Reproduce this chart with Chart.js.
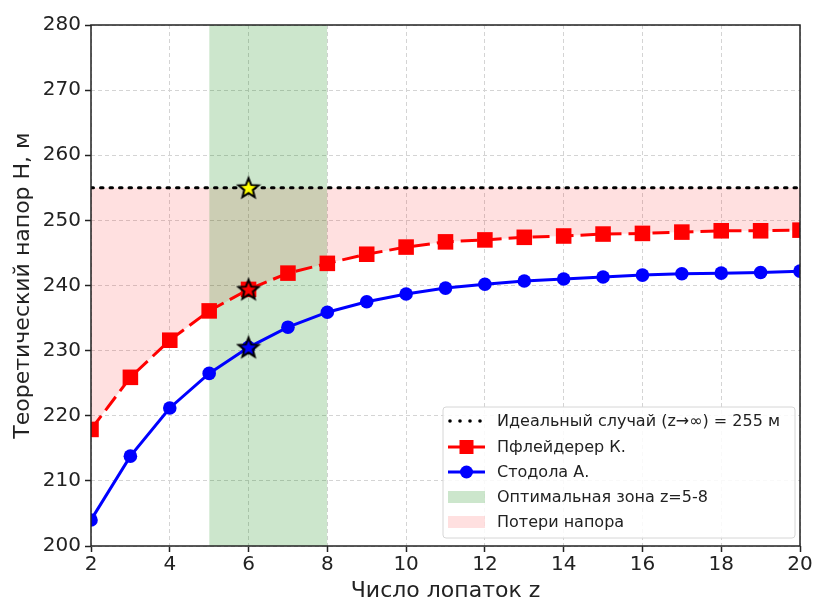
<!DOCTYPE html>
<html>
<head>
<meta charset="utf-8">
<script src="https://cdn.jsdelivr.net/npm/chart.js@4.4.1/dist/chart.umd.min.js"></script>
<style>
  html, body { margin: 0; padding: 0; background: #fff; }
  #wrap { width: 814px; height: 602px; }
</style>
</head>
<body>
<div id="wrap"><canvas id="myChart" width="814" height="602"></canvas></div>
<script>
// data
var blades = [2, 3, 4, 5, 6, 7, 8, 9, 10, 11, 12, 13, 14, 15, 16, 17, 18, 19, 20];
var pfleiderer = [217.9, 225.9, 231.6, 236.1, 239.4, 241.9, 243.4, 244.8, 245.9, 246.7, 247.0, 247.4, 247.6, 247.9, 248.0, 248.2, 248.4, 248.4, 248.5];
var stodola = [204.0, 213.8, 221.2, 226.5, 230.5, 233.6, 235.9, 237.5, 238.7, 239.6, 240.2, 240.7, 241.0, 241.3, 241.6, 241.8, 241.9, 242.0, 242.2];
var idealHead = 255;
var optimalZone = [5, 8];
var chosenZ = 6;
var legendLabels = ["Идеальный случай (z→∞) = 255 м", "Пфлейдерер К.", "Стодола А.", "Оптимальная зона z=5-8", "Потери напора"];
var xTitle = "Число лопаток z";
var yTitle = "Теоретический напор H, м";

var FONT = "'DejaVu Sans', sans-serif";

function xy(values){
    var out = [];
    for (var i = 0; i < blades.length; i++) {
        out.push({x: blades[i], y: values[i]});
    }
    return out;
}

var idealData = [];
for (var i = 0; i < blades.length; i++) {
    idealData.push({x: blades[i], y: idealHead});
}

var k = blades.indexOf(chosenZ);
var starPoints = [
    {x: chosenZ, y: idealHead},
    {x: chosenZ, y: pfleiderer[k]},
    {x: chosenZ, y: stodola[k]}
];

function makeStar(fill){
    var c = document.createElement('canvas');
    c.width = 26; c.height = 26;
    var g = c.getContext('2d');
    g.beginPath();
    for (var j = 0; j < 10; j++) {
        var r = (j % 2 == 0) ? 10.5 : 4.5;
        var a = -Math.PI / 2 + j * Math.PI / 5;
        var px = 13 + r * Math.cos(a);
        var py = 13.8 + r * Math.sin(a);
        if (j == 0) g.moveTo(px, py); else g.lineTo(px, py);
    }
    g.closePath();
    g.fillStyle = fill;
    g.fill();
    g.lineWidth = 2;
    g.strokeStyle = '#000';
    g.stroke();
    return c;
}
var stars = [makeStar('#ffff00'), makeStar('#ff0000'), makeStar('#0000ff')];

// frame + legend drawn after everything
var framePlugin = {
    id: 'framePlugin',
    afterDraw: function(chart){
        var ctx = chart.ctx;
        var a = chart.chartArea;
        ctx.save();
        ctx.strokeStyle = '#222';
        ctx.lineWidth = 1.5;
        ctx.strokeRect(a.left, a.top, a.right - a.left, a.bottom - a.top);

        // legend box
        var bx = 443, by = 407, bw = 352, bh = 131;
        ctx.fillStyle = 'rgba(255,255,255,0.85)';
        ctx.strokeStyle = '#d6d6d6';
        ctx.lineWidth = 1;
        ctx.beginPath();
        if (ctx.roundRect) ctx.roundRect(bx, by, bw, bh, 3); else ctx.rect(bx, by, bw, bh);
        ctx.fill();
        ctx.stroke();

        var x0 = 448, x1 = 485, tx = 497;
        var rows = [421, 447, 472, 497, 522];
        ctx.font = '16px ' + FONT;
        ctx.textBaseline = 'middle';
        ctx.fillStyle = '#222';
        for (var r = 0; r < legendLabels.length; r++) {
            ctx.fillText(legendLabels[r], tx, rows[r] + 1);
        }
        // ideal: dots
        ctx.fillStyle = '#000';
        for (var d = 0; d < 4; d++) {
            ctx.beginPath();
            ctx.arc(x0 + 2 + d * 10, rows[0], 1.8, 0, Math.PI * 2);
            ctx.fill();
        }
        // pfleiderer
        ctx.strokeStyle = '#ff0000';
        ctx.lineWidth = 3;
        ctx.beginPath(); ctx.moveTo(x0, rows[1]); ctx.lineTo(x1, rows[1]); ctx.stroke();
        ctx.fillStyle = '#ff0000';
        ctx.fillRect((x0 + x1) / 2 - 7, rows[1] - 7, 14, 14);
        // stodola
        ctx.strokeStyle = '#0000ff';
        ctx.beginPath(); ctx.moveTo(x0, rows[2]); ctx.lineTo(x1, rows[2]); ctx.stroke();
        ctx.fillStyle = '#0000ff';
        ctx.beginPath(); ctx.arc((x0 + x1) / 2, rows[2], 6.5, 0, Math.PI * 2); ctx.fill();
        // patches
        ctx.fillStyle = 'rgba(0,128,0,0.2)';
        ctx.fillRect(x0, rows[3] - 6, x1 - x0, 12);
        ctx.fillStyle = 'rgba(255,0,0,0.12)';
        ctx.fillRect(x0, rows[4] - 6, x1 - x0, 12);
        ctx.restore();
    }
};

var ctx = document.getElementById('myChart').getContext('2d');
var chart = new Chart(ctx, {
    type: 'line',
    data: {
        datasets: [
            {
                label: 'stars',
                data: starPoints,
                showLine: false,
                pointStyle: stars,
                pointRadius: 13,
                pointHoverRadius: 13,
                order: 0
            },
            {
                label: legendLabels[0],
                data: idealData,
                borderColor: '#000',
                borderWidth: 3,
                borderDash: [2.5, 7],
                borderCapStyle: 'round',
                pointRadius: 0,
                fill: false,
                order: 1
            },
            {
                label: legendLabels[2],
                data: xy(stodola),
                borderColor: '#0000ff',
                backgroundColor: '#0000ff',
                borderWidth: 3,
                pointStyle: 'circle',
                pointRadius: 6.8,
                pointBorderWidth: 0,
                fill: false,
                order: 2
            },
            {
                label: legendLabels[3],
                data: [{x: optimalZone[0], y: 280}, {x: optimalZone[1], y: 280}],
                borderWidth: 0,
                borderColor: 'rgba(0,0,0,0)',
                backgroundColor: 'rgba(0,128,0,0.2)',
                pointRadius: 0,
                fill: 'start',
                order: 4
            },
            {
                label: legendLabels[1],
                data: xy(pfleiderer),
                borderColor: '#ff0000',
                backgroundColor: '#ff0000',
                borderWidth: 3,
                borderDash: [17, 7],
                pointStyle: 'rect',
                pointRadius: 11,
                pointBorderWidth: 0,
                fill: {target: 1, above: 'rgba(255,0,0,0.12)', below: 'rgba(255,0,0,0.12)'},
                order: 5
            }
        ]
    },
    options: {
        responsive: false,
        animation: false,
        layout: { padding: { left: 0, right: 11, top: 25, bottom: 0 } },
        plugins: {
            legend: { display: false },
            tooltip: { enabled: false },
            filler: { drawTime: 'beforeDatasetsDraw' }
        },
        scales: {
            x: {
                type: 'linear',
                min: 2,
                max: 20,
                ticks: { stepSize: 2, color: '#222', font: { family: FONT, size: 20 }, padding: 1 },
                grid: { color: '#d4d4d4', lineWidth: 1, tickColor: '#222', tickLength: 6, tickWidth: 1.5 },
                border: { display: false, dash: [4, 3] },
                title: { display: true, text: xTitle, color: '#222', font: { family: FONT, size: 22, lineHeight: 1 }, padding: { top: 0, bottom: 0 } },
                afterFit: function(scale){ scale.height = 56; }
            },
            y: {
                min: 200,
                max: 280,
                ticks: { stepSize: 10, color: '#222', font: { family: FONT, size: 20 }, padding: 4 },
                grid: { color: '#d4d4d4', lineWidth: 1, tickColor: '#222', tickLength: 6, tickWidth: 1.5 },
                border: { display: false, dash: [4, 3] },
                title: { display: true, text: yTitle, color: '#222', font: { family: FONT, size: 22, lineHeight: 1 }, padding: { top: 12, bottom: 0 } },
                afterFit: function(scale){ scale.width = 91; }
            }
        }
    },
    plugins: [framePlugin]
});
</script>
</body>
</html>
